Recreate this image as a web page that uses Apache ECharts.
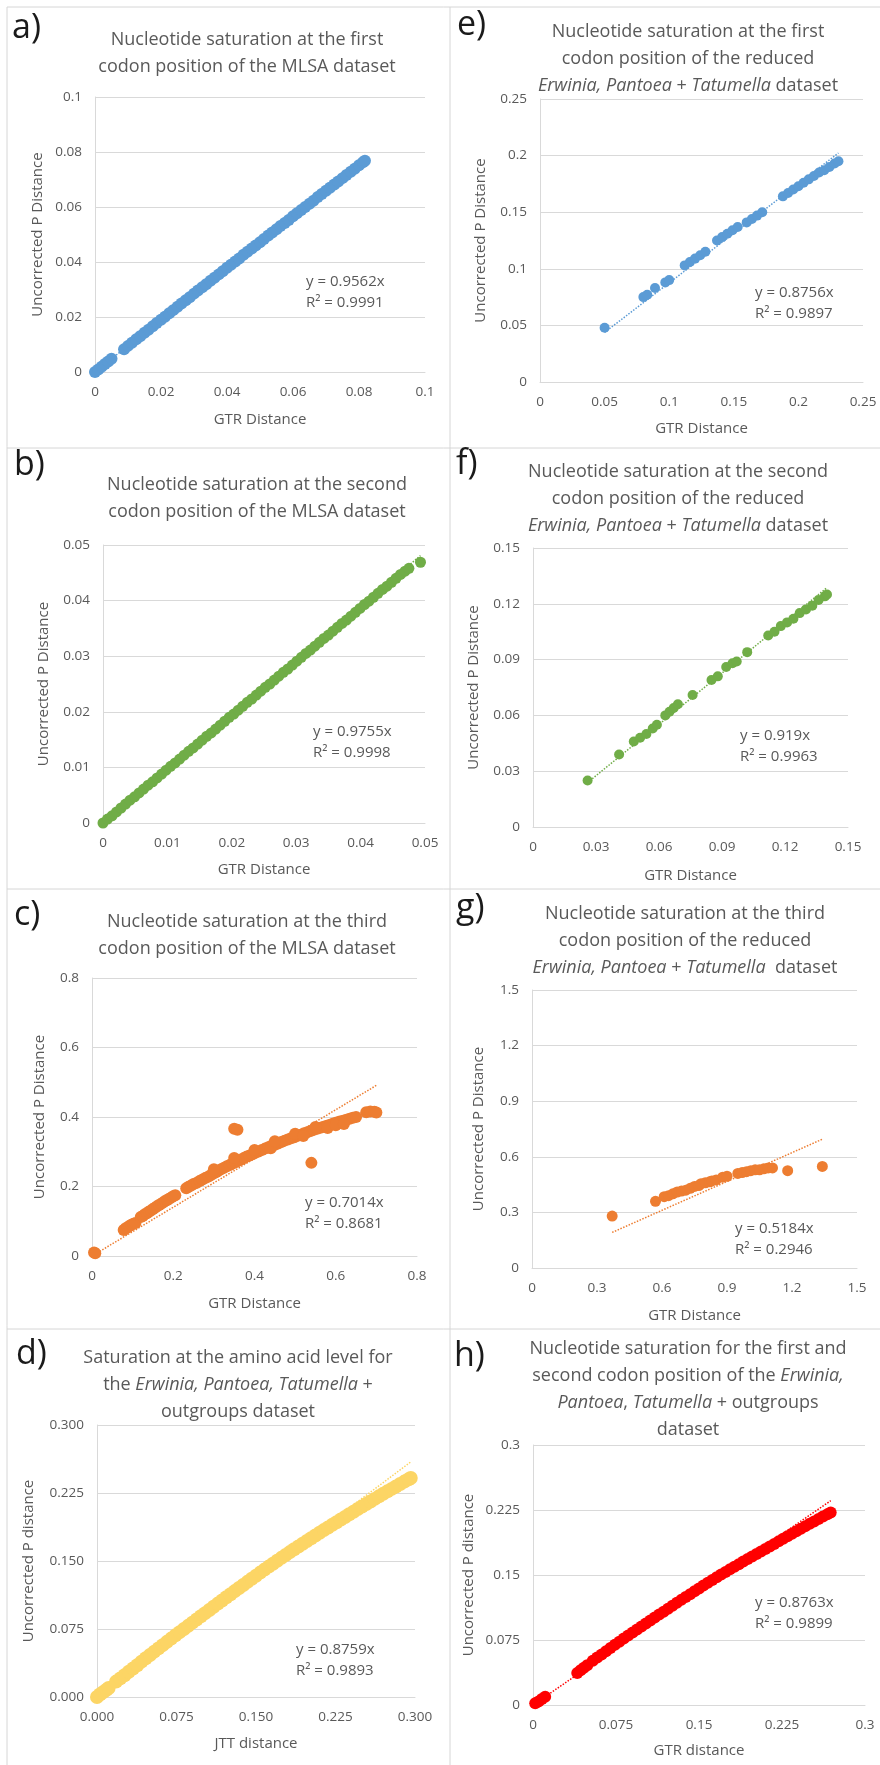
<!DOCTYPE html>
<html><head><meta charset="utf-8">
<script src="https://cdn.jsdelivr.net/npm/echarts@6/dist/echarts.min.js"></script>
<style>html,body{margin:0;padding:0;background:#fff}#c{width:880px;height:1765px}</style>
</head><body><div id="c"></div>
<script>
// ---------- DATA ----------
const ptsA = [[0,0],[0.001,0.0009],[0.002,0.0019],[0.003,0.0029],[0.004,0.0038],[0.005,0.0048],
[0.0088,0.0083],[0.01,0.0095],[0.0112,0.0106],[0.0125,0.0119],[0.0137,0.013],[0.015,0.0143],[0.0162,0.0154],[0.0175,0.0166],[0.0187,0.0178],[0.02,0.019],
[0.0212,0.0201],[0.0225,0.0214],[0.0237,0.0225],[0.025,0.0237],[0.0262,0.0249],[0.0275,0.0261],[0.0287,0.0272],[0.03,0.0285],[0.0312,0.0296],[0.0325,0.0308],
[0.0337,0.0319],[0.035,0.0332],[0.0362,0.0343],[0.0375,0.0355],[0.0387,0.0366],[0.04,0.0379],[0.0412,0.039],[0.0425,0.0402],[0.0437,0.0413],[0.045,0.0426],
[0.0462,0.0437],[0.0475,0.0449],[0.0487,0.046],[0.05,0.0472],[0.0512,0.0484],[0.0525,0.0496],[0.0537,0.0507],[0.055,0.0519],[0.0562,0.0531],[0.0575,0.0542],
[0.0587,0.0553],[0.06,0.0566],[0.0612,0.0577],[0.0625,0.0589],[0.0637,0.06],[0.065,0.0612],[0.0662,0.0623],[0.0675,0.0636],[0.0687,0.0647],[0.07,0.0659],
[0.0712,0.067],[0.0725,0.0682],[0.0737,0.0693],[0.075,0.0705],[0.0762,0.0716],[0.0775,0.0728],[0.0787,0.0739],[0.08,0.0752],[0.0812,0.0763],[0.0818,0.0768]];
const trendA = [[0,0],[0.0818,0.0782]];

const ptsB = [[0,0],[0.0007,0.0007],[0.0014,0.0013],[0.0021,0.002],[0.0028,0.0027],[0.0035,0.0034],[0.0042,0.0041],[0.0049,0.0047],[0.0056,0.0054],[0.0063,0.0061],
[0.007,0.0068],[0.0077,0.0074],[0.0084,0.0081],[0.0091,0.0088],[0.0098,0.0095],[0.0105,0.0102],[0.0112,0.0108],[0.0119,0.0115],[0.0126,0.0122],[0.0133,0.0129],
[0.014,0.0135],[0.0147,0.0142],[0.0154,0.0149],[0.0161,0.0156],[0.0168,0.0162],[0.0175,0.0169],[0.0182,0.0176],[0.0189,0.0183],[0.0196,0.019],[0.0203,0.0196],
[0.021,0.0203],[0.0217,0.021],[0.0224,0.0217],[0.0231,0.0223],[0.0238,0.023],[0.0245,0.0237],[0.0252,0.0244],[0.0259,0.025],[0.0266,0.0257],[0.0273,0.0264],
[0.028,0.0271],[0.0287,0.0277],[0.0294,0.0284],[0.0301,0.0291],[0.0308,0.0298],[0.0315,0.0305],[0.0322,0.0311],[0.0329,0.0318],[0.0336,0.0325],[0.0343,0.0332],
[0.035,0.0338],[0.0357,0.0345],[0.0364,0.0352],[0.0371,0.0359],[0.0378,0.0365],[0.0385,0.0372],[0.0392,0.0379],[0.0399,0.0386],[0.0406,0.0393],[0.0413,0.0399],
[0.042,0.0406],[0.0427,0.0413],[0.0434,0.042],[0.0441,0.0426],[0.0448,0.0433],[0.0455,0.044],[0.0462,0.0447],[0.0469,0.0453],[0.0475,0.0458],[0.0493,0.0469]];
const trendB = [[0,0],[0.0493,0.0481]];

const ptsC = [[0.005,0.01],[0.008,0.008],
[0.078,0.075],[0.083,0.08],[0.088,0.083],[0.092,0.086],[0.097,0.09],[0.102,0.093],[0.107,0.095],
[0.12,0.112],[0.125,0.115],[0.13,0.12],[0.135,0.123],[0.14,0.127],[0.145,0.131],[0.15,0.135],[0.155,0.139],[0.16,0.143],[0.165,0.147],[0.17,0.15],
[0.175,0.154],[0.18,0.158],[0.185,0.161],[0.19,0.165],[0.195,0.168],[0.2,0.172],[0.205,0.175],
[0.232,0.195],[0.238,0.199],[0.244,0.203],[0.25,0.207],[0.258,0.211],[0.265,0.216],[0.272,0.22],[0.28,0.225],[0.287,0.229],[0.294,0.234],[0.3,0.238],
[0.306,0.242],[0.312,0.246],[0.318,0.25],[0.325,0.254],[0.332,0.258],[0.339,0.262],[0.346,0.266],[0.353,0.27],[0.36,0.274],[0.367,0.278],[0.374,0.282],
[0.381,0.286],[0.388,0.289],[0.395,0.293],[0.402,0.297],[0.41,0.301],[0.418,0.305],[0.426,0.309],[0.434,0.313],[0.442,0.317],[0.45,0.32],[0.458,0.324],
[0.466,0.328],[0.474,0.332],[0.482,0.335],[0.49,0.339],[0.498,0.342],[0.506,0.346],[0.514,0.349],[0.522,0.353],[0.53,0.356],[0.538,0.36],[0.546,0.363],
[0.554,0.366],[0.562,0.369],[0.57,0.372],[0.578,0.375],[0.586,0.378],[0.594,0.381],[0.602,0.384],[0.61,0.387],[0.618,0.389],[0.626,0.392],[0.634,0.395],
[0.642,0.398],[0.65,0.4],
[0.3,0.25],[0.35,0.282],[0.4,0.305],[0.44,0.31],[0.45,0.33],[0.5,0.352],[0.52,0.345],[0.55,0.371],[0.58,0.368],[0.6,0.376],[0.62,0.38],
[0.35,0.366],[0.358,0.363],[0.54,0.268],
[0.675,0.414],[0.685,0.416],[0.695,0.415],[0.7,0.413]];
const trendC = [[0,0],[0.7,0.491]];

const ptsD = [[0,0],[0.003,0.003],[0.006,0.0055],[0.009,0.008],[0.011,0.01],
[0.018,0.017],[0.022,0.0205],[0.026,0.024],[0.03,0.0278],[0.034,0.0315],[0.038,0.035],[0.042,0.039],[0.046,0.0427],[0.05,0.0463],[0.054,0.05],
[0.058,0.0536],[0.062,0.0572],[0.066,0.0608],[0.07,0.0644],[0.074,0.068],[0.078,0.0715],[0.082,0.075],[0.086,0.0785],[0.09,0.082],[0.094,0.0855],
[0.098,0.089],[0.102,0.0925],[0.106,0.096],[0.11,0.0995],[0.114,0.103],[0.118,0.1065],[0.122,0.11],[0.126,0.1134],[0.13,0.1168],[0.134,0.1202],
[0.138,0.1236],[0.142,0.127],[0.146,0.1304],[0.15,0.1338],[0.154,0.1372],[0.158,0.1405],[0.162,0.1438],[0.166,0.147],[0.17,0.1503],[0.174,0.1535],
[0.178,0.1567],[0.182,0.1598],[0.186,0.1629],[0.19,0.166],[0.194,0.1691],[0.198,0.1721],[0.202,0.1751],[0.206,0.1781],[0.21,0.1811],[0.214,0.1841],
[0.218,0.187],[0.222,0.1899],[0.226,0.1928],[0.23,0.1957],[0.234,0.1986],[0.238,0.2015],[0.242,0.2044],[0.246,0.2073],[0.25,0.2101],[0.254,0.2129],
[0.258,0.2157],[0.262,0.2185],[0.266,0.2213],[0.27,0.2241],[0.274,0.2268],[0.278,0.2295],[0.282,0.2322],[0.286,0.2349],[0.29,0.2376],[0.294,0.2402],[0.296,0.2415]];
const trendD = [[0,0],[0.296,0.2593]];

const ptsE = [[0.05,0.048],[0.08,0.075],[0.083,0.077],[0.089,0.083],[0.097,0.088],[0.1,0.09],[0.112,0.103],[0.116,0.106],[0.12,0.109],[0.124,0.112],
[0.128,0.115],[0.137,0.125],[0.141,0.128],[0.145,0.131],[0.149,0.134],[0.153,0.137],[0.16,0.141],[0.164,0.144],[0.168,0.147],[0.172,0.15],
[0.188,0.164],[0.192,0.167],[0.196,0.17],[0.2,0.173],[0.204,0.176],[0.208,0.179],[0.212,0.182],[0.216,0.185],[0.22,0.187],[0.224,0.19],[0.228,0.193],[0.231,0.195]];
const trendE = [[0.05,0.0438],[0.231,0.2023]];

const ptsF = [[0.026,0.025],[0.041,0.039],[0.048,0.046],[0.051,0.048],[0.054,0.05],[0.057,0.053],[0.059,0.055],[0.063,0.06],[0.065,0.062],[0.067,0.064],
[0.069,0.066],[0.076,0.071],[0.085,0.079],[0.088,0.081],[0.092,0.086],[0.095,0.088],[0.097,0.089],[0.102,0.094],[0.112,0.103],[0.115,0.105],
[0.118,0.108],[0.121,0.11],[0.124,0.112],[0.127,0.115],[0.13,0.117],[0.133,0.119],[0.136,0.122],[0.139,0.124],[0.14,0.125]];
const trendF = [[0.026,0.0239],[0.14,0.1287]];

const ptsG = [[0.37,0.28],[0.57,0.36],[0.61,0.385],[0.63,0.39],[0.65,0.4],[0.67,0.41],[0.69,0.415],[0.71,0.42],[0.73,0.43],[0.75,0.44],[0.77,0.445],
[0.78,0.455],[0.8,0.46],[0.82,0.465],[0.83,0.47],[0.85,0.475],[0.88,0.49],[0.9,0.495],[0.95,0.51],[0.97,0.515],[0.99,0.52],[1.01,0.525],[1.03,0.53],
[1.05,0.53],[1.07,0.535],[1.09,0.54],[1.11,0.54],[1.18,0.525],[1.34,0.548]];
const trendG = [[0.37,0.192],[1.34,0.695]];

const ptsH = [[0.002,0.002],[0.005,0.004],[0.008,0.0068],[0.011,0.0095],
[0.04,0.037],[0.043,0.04],[0.046,0.043],[0.049,0.046],
[0.054,0.051],[0.058,0.0547],[0.062,0.0584],[0.066,0.0621],[0.07,0.0658],[0.074,0.0695],[0.078,0.0731],[0.082,0.0767],[0.086,0.0802],[0.09,0.0837],
[0.094,0.0872],[0.098,0.0907],[0.102,0.0941],[0.106,0.0975],[0.11,0.1009],[0.114,0.1043],[0.118,0.1077],[0.122,0.1111],[0.126,0.1145],[0.13,0.1179],
[0.134,0.1213],[0.138,0.1246],[0.142,0.1279],[0.146,0.1312],[0.15,0.1345],[0.154,0.1378],[0.158,0.1411],[0.162,0.1443],[0.166,0.1475],[0.17,0.1505],
[0.174,0.1535],[0.178,0.1565],[0.182,0.1595],[0.186,0.1625],[0.19,0.1655],[0.194,0.1685],[0.198,0.1714],[0.202,0.1743],[0.206,0.1772],[0.21,0.1801],
[0.214,0.183],[0.218,0.1859],[0.222,0.1888],[0.226,0.1917],[0.23,0.1946],[0.234,0.1975],[0.238,0.2004],[0.242,0.2033],[0.246,0.2062],[0.25,0.209],
[0.254,0.2118],[0.258,0.2146],[0.262,0.2174],[0.266,0.2202],[0.269,0.2222]];
const trendH = [[0,0],[0.269,0.2357]];

// axis ranges [min, max, interval]
const rangeA = [0, 0.1, 0.02];
const rangeB = [0, 0.05, 0.01];
const rangeC = [0, 0.8, 0.2];
const rangeD = [0, 0.3, 0.075];
const rangeE = [0, 0.25, 0.05];
const rangeF = [0, 0.15, 0.03];
const rangeG = [0, 1.5, 0.3];
const rangeH = [0, 0.3, 0.075];

const titles = {
  a: 'Nucleotide saturation at the first\ncodon position of the MLSA dataset',
  b: 'Nucleotide saturation at the second\ncodon position of the MLSA dataset',
  c: 'Nucleotide saturation at the third\ncodon position of the MLSA dataset',
  d: 'Saturation at the amino acid level for\nthe {i|Erwinia, Pantoea, Tatumella} +\noutgroups dataset',
  e: 'Nucleotide saturation at the first\ncodon position of the reduced\n{i|Erwinia, Pantoea} + {i|Tatumella} dataset',
  f: 'Nucleotide saturation at the second\ncodon position of the reduced\n{i|Erwinia, Pantoea} + {i|Tatumella} dataset',
  g: 'Nucleotide saturation at the third\ncodon position of the reduced\n{i|Erwinia, Pantoea} + {i|Tatumella}  dataset',
  h: 'Nucleotide saturation for the first and\nsecond codon position of the {i|Erwinia,}\n{i|Pantoea}, {i|Tatumella} + outgroups\ndataset'
};
const equations = {
  a: 'y = 0.9562x\nR² = 0.9991', b: 'y = 0.9755x\nR² = 0.9998', c: 'y = 0.7014x\nR² = 0.8681', d: 'y = 0.8759x\nR² = 0.9893',
  e: 'y = 0.8756x\nR² = 0.9897', f: 'y = 0.919x\nR² = 0.9963', g: 'y = 0.5184x\nR² = 0.2946', h: 'y = 0.8763x\nR² = 0.9899'
};
const xNames = {a:'GTR Distance', b:'GTR Distance', c:'GTR Distance', d:'JTT distance', e:'GTR Distance', f:'GTR Distance', g:'GTR Distance', h:'GTR distance'};
const yNames = {a:'Uncorrected P Distance', b:'Uncorrected P Distance', c:'Uncorrected P Distance', d:'Uncorrected P distance',
  e:'Uncorrected P Distance', f:'Uncorrected P Distance', g:'Uncorrected P Distance', h:'Uncorrected P distance'};

// ---------- LAYOUT / STYLE ----------
const FONT = 'Open Sans';
const TXT = '#595959';
const GRIDC = '#d9d9d9';
const TITLE_FS = 18, TICK_FS = 13.5, NAME_FS = 15, EQ_FS = 15;
const panels = [
  {k:'a', pts:ptsA, tr:trendA, rg:rangeA, color:'#5B9BD5', size:12, grid:[95,97,330,275], xGap:40, yGap:50, title:[247,53.5], eq:[306,271], letter:[12,28], dec:null},
  {k:'b', pts:ptsB, tr:trendB, rg:rangeB, color:'#70AD47', size:11, grid:[103,545,322,278], xGap:39, yGap:52, title:[257,498.5], eq:[313,721], letter:[14,465], dec:null},
  {k:'c', pts:ptsC, tr:trendC, rg:rangeC, color:'#ED7D31', size:12, grid:[92,978,325,278], xGap:40, yGap:45, title:[247,935], eq:[305,1192], letter:[14,915], dec:null},
  {k:'d', pts:ptsD, tr:trendD, rg:rangeD, color:'#FCD565', size:14, grid:[97,1425,318,272], xGap:39, yGap:61, title:[238,1385], eq:[296,1639], letter:[16,1354], dec:3},
  {k:'e', pts:ptsE, tr:trendE, rg:rangeE, color:'#5B9BD5', size:10, grid:[540,99,323,283], xGap:39, yGap:52, title:[688,58.5], eq:[755,282], letter:[457,25], dec:null},
  {k:'f', pts:ptsF, tr:trendF, rg:rangeF, color:'#70AD47', size:10, grid:[533,548,315,279], xGap:41, yGap:52, title:[678,498.5], eq:[740,725], letter:[456,464], dec:null},
  {k:'g', pts:ptsG, tr:trendG, rg:rangeG, color:'#ED7D31', size:11, grid:[532,990,325,278], xGap:40, yGap:46, title:[685,940.5], eq:[735,1218], letter:[456,908], dec:null},
  {k:'h', pts:ptsH, tr:trendH, rg:rangeH, color:'#FF0000', size:12, grid:[533,1445,332,260], xGap:38, yGap:57, title:[688,1389.5], eq:[755,1592], letter:[454,1356], dec:null}
];

const fmt = (dec) => (v) => dec ? v.toFixed(dec) : String(+v.toFixed(4));

const grids = [], xAxes = [], yAxes = [], series = [], graphics = [];
panels.forEach((p, i) => {
  grids.push({left:p.grid[0], top:p.grid[1], width:p.grid[2], height:p.grid[3], containLabel:false});
  const common = {
    type:'value', gridIndex:i, min:p.rg[0], max:p.rg[1], interval:p.rg[2],
    axisTick:{show:false},
    axisLine:{show:true, lineStyle:{color:GRIDC, width:1}},
    axisLabel:{color:TXT, fontFamily:FONT, fontSize:TICK_FS, formatter:fmt(p.dec)},
    nameLocation:'middle',
    nameTextStyle:{color:TXT, fontFamily:FONT, fontSize:NAME_FS}
  };
  xAxes.push(Object.assign({}, common, {name:xNames[p.k], nameGap:p.xGap, splitLine:{show:false},
    axisLabel:Object.assign({}, common.axisLabel, {margin:13})}));
  yAxes.push(Object.assign({}, common, {name:yNames[p.k], nameGap:p.yGap, splitLine:{show:true, lineStyle:{color:GRIDC, width:1}},
    axisLabel:Object.assign({}, common.axisLabel, {margin:13})}));
  series.push({type:'line', xAxisIndex:i, yAxisIndex:i, data:p.tr, showSymbol:false, symbol:'none', z:2, silent:true,
    lineStyle:{color:p.color, width:1.5, type:'dotted'}});
  series.push({type:'scatter', xAxisIndex:i, yAxisIndex:i, data:p.pts, symbolSize:p.size, z:3, silent:true,
    itemStyle:{color:p.color, opacity:1}});
  graphics.push({type:'text', x:p.title[0], y:p.title[1], silent:true, style:{
    text:titles[p.k], fill:TXT, fontFamily:FONT, fontSize:TITLE_FS, lineHeight:27, align:'center', verticalAlign:'middle',
    rich:{i:{fontStyle:'italic', fontFamily:FONT, fontSize:TITLE_FS, lineHeight:27, fill:TXT}}}});
  graphics.push({type:'text', x:p.eq[0], y:p.eq[1], silent:true, style:{
    text:equations[p.k], fill:TXT, fontFamily:FONT, fontSize:EQ_FS, lineHeight:21, align:'left', verticalAlign:'top'}});
  graphics.push({type:'text', x:p.letter[0], y:p.letter[1], silent:true, style:{
    text:p.k + ')', fill:'#1a1a1a', fontFamily:FONT, fontSize:34, align:'left', verticalAlign:'middle'}});
});

// panel frame lines
const frame = [[7,7,7,1765],[7,7,880,7],[450,7,450,1765],[7,448,880,448],[7,889,880,889],[7,1329,880,1329]];
frame.forEach(l => graphics.push({type:'line', silent:true, z:-1, shape:{x1:l[0], y1:l[1], x2:l[2], y2:l[3]},
  style:{stroke:'#d6d6d6', lineWidth:1}}));

const chart = echarts.init(document.getElementById('c'), null, {renderer:'canvas'});
chart.setOption({
  animation:false,
  backgroundColor:'#ffffff',
  grid:grids, xAxis:xAxes, yAxis:yAxes, series:series,
  graphic:graphics
});
</script></body></html>
